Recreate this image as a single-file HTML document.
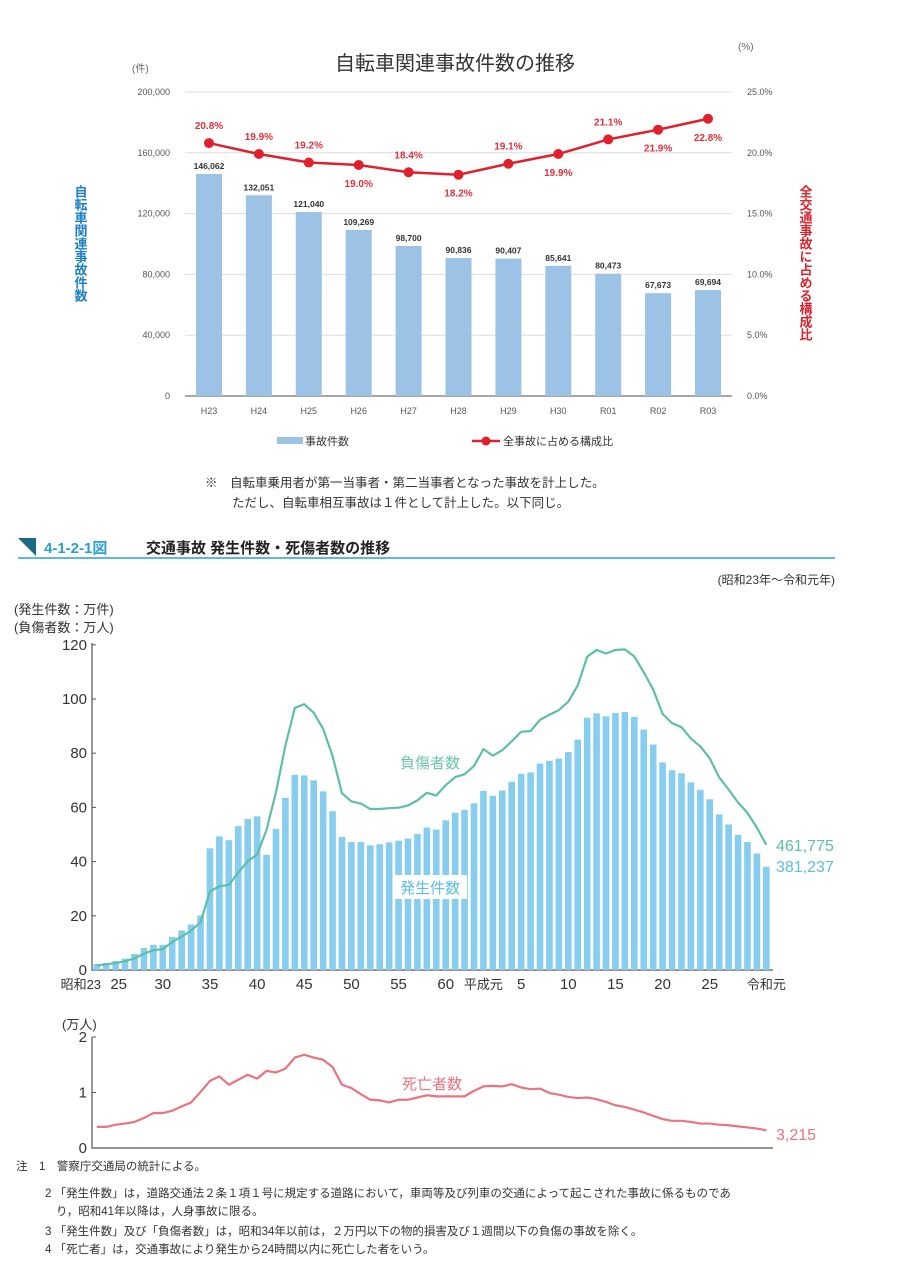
<!DOCTYPE html>
<html><head><meta charset="utf-8"><style>
body{margin:0;background:#fff;}
svg{display:block;font-family:"Liberation Sans","Noto Sans CJK JP",sans-serif;}
</style></head><body>
<svg id="s" width="906" height="1280" viewBox="0 0 906 1280">
<g id="top">
<text x="455" y="70" font-size="20" text-anchor="middle" fill="#333">自転車関連事故件数の推移</text>
<text x="132" y="72" font-size="10" fill="#666">(件)</text>
<text x="738" y="50" font-size="10" fill="#666">(%)</text>
<text x="80" y="185" font-size="13" font-weight="bold" fill="#1a7fc4" style="writing-mode:vertical-rl">自転車関連事故件数</text>
<text x="805" y="185" font-size="13" font-weight="bold" fill="#d9232d" style="writing-mode:vertical-rl">全交通事故に占める構成比</text>
</g>
<g id="bottom">
<path d="M18 538 L36 538 L36 556 Z" fill="#1a6a80"/>
<line x1="18" y1="558" x2="835" y2="558" stroke="#2a9fd6" stroke-width="1.5"/>
<text x="44" y="553" font-size="15" font-weight="bold" fill="#2a9fd6">4-1-2-1図</text>
<text x="146" y="553" font-size="15" font-weight="bold" fill="#222">交通事故 発生件数・死傷者数の推移</text>
<text x="835" y="584" font-size="12" text-anchor="end" fill="#333">(昭和23年～令和元年)</text>
<text x="14" y="614" font-size="13" fill="#333">(発生件数：万件)</text>
<text x="14" y="632" font-size="13" fill="#333">(負傷者数：万人)</text>
<text x="62" y="1029" font-size="13" fill="#333">(万人)</text>
</g>
<g font-size="11.5" fill="#333">
<text x="16" y="1170">注　1　警察庁交通局の統計による。</text>
<text x="45" y="1197">2 「発生件数」は，道路交通法２条１項１号に規定する道路において，車両等及び列車の交通によって起こされた事故に係るものであ</text>
<text x="56" y="1215">り，昭和41年以降は，人身事故に限る。</text>
<text x="45" y="1235">3 「発生件数」及び「負傷者数」は，昭和34年以前は，２万円以下の物的損害及び１週間以下の負傷の事故を除く。</text>
<text x="45" y="1253">4 「死亡者」は，交通事故により発生から24時間以内に死亡した者をいう。</text>
</g>
<text x="205" y="487" font-size="12.5" fill="#333">※　自転車乗用者が第一当事者・第二当事者となった事故を計上した。</text>
<text x="232" y="507" font-size="12.5" fill="#333">ただし、自転車相互事故は１件として計上した。以下同じ。</text>
</svg>
<script>
const NS="http://www.w3.org/2000/svg";
const svg=document.getElementById('s');
function mk(tag,attrs,parent,txt){const e=document.createElementNS(NS,tag);for(const k in attrs)e.setAttribute(k,attrs[k]);if(txt!==undefined)e.textContent=txt;(parent||svg).appendChild(e);return e;}

// ---- top chart data ----
const topCats=["H23","H24","H25","H26","H27","H28","H29","H30","R01","R02","R03"];
const topCounts=[146062,132051,121040,109269,98700,90836,90407,85641,80473,67673,69694];
const topPct=[20.8,19.9,19.2,19.0,18.4,18.2,19.1,19.9,21.1,21.9,22.8];
const topLeftTicks=[0,40000,80000,120000,160000,200000];
const topRightTicks=[0,5,10,15,20,25];
const pctSide=[1,1,1,-1,1,-1,1,-1,1,-1,-1];

const tY=v=>396-v/200000*304;
const tP=v=>396-v/25*304;
const tX=i=>209+i*49.9;
const gTop=document.getElementById('top');
topLeftTicks.forEach((t,i)=>{
 const g=mk('line',{x1:185,x2:732,y1:tY(t),y2:tY(t),stroke:i?'#ddd':'#888','stroke-width':i?1:1.5},gTop);
 
 
 const l=mk('text',{x:170,y:tY(t)+3,'font-size':9,'text-anchor':'end',fill:'#555'},gTop,t.toLocaleString('en-US'));
 
 
});
topRightTicks.forEach(t=>{
 const l=mk('text',{x:747,y:tP(t)+3,'font-size':9,fill:'#555'},gTop,t.toFixed(1)+'%');
 
 
});
topCats.forEach((c,i)=>{
 const b=mk('rect',{x:tX(i)-13,y:tY(topCounts[i]),width:26,height:396-tY(topCounts[i]),fill:'#9cc3e6'},gTop);
 
 
 const v=mk('text',{x:tX(i),y:tY(topCounts[i])-5,'font-size':8.5,'font-weight':'bold','text-anchor':'middle',fill:'#333'},gTop,topCounts[i].toLocaleString('en-US'));
 
 
 const cl=mk('text',{x:tX(i),y:414,'font-size':9,'text-anchor':'middle',fill:'#555'},gTop,c);
 
 
});
const pl=mk('polyline',{points:topPct.map((p,i)=>tX(i)+','+tP(p)).join(' '),fill:'none',stroke:'#e0202c','stroke-width':2.5},gTop);


topPct.forEach((p,i)=>{
 const d=mk('circle',{cx:tX(i),cy:tP(p),r:5,fill:'#e0202c'},gTop);
 
 
 const t=mk('text',{x:tX(i),y:tP(p)+(pctSide[i]>0?-14:22),'font-size':10,'font-weight':'bold','text-anchor':'middle',fill:'#e0303c'},gTop,p.toFixed(1)+'%');
 
 
});
const lg1=mk('rect',{x:277,y:437,width:26,height:7,fill:'#9cc3e6'},gTop);


const lt1=mk('text',{x:305,y:445,'font-size':11,fill:'#333'},gTop,'事故件数');


const lg2=mk('line',{x1:472,x2:500,y1:441,y2:441,stroke:'#e0202c','stroke-width':2.5},gTop);


const lg3=mk('circle',{cx:486,cy:441,r:4.5,fill:'#e0202c'},gTop);


const lt2=mk('text',{x:503,y:445,'font-size':11,fill:'#333'},gTop,'全事故に占める構成比');



// ---- bottom chart data (昭和23〜令和元, 72 years) ----
const accidents=[2.2,2.6,3.3,4.2,5.9,8.1,9.3,9.3,12.2,14.6,16.8,20.1,44.9,49.3,47.9,53.1,55.7,56.7,42.5,52.1,63.5,72.0,71.8,70.0,65.9,58.6,49.1,47.2,47.2,46.0,46.4,47.1,47.7,48.5,50.2,52.6,51.8,55.2,58.0,59.1,61.5,66.1,64.3,66.2,69.5,72.4,72.9,76.2,77.2,78.0,80.4,85.0,93.1,94.7,93.6,94.8,95.2,93.4,88.7,83.2,76.6,73.7,72.6,69.2,66.5,63.0,57.4,53.7,49.9,47.2,43.0,38.1];
const injured=[1.7,2.1,2.6,3.2,4.3,6.0,7.3,7.7,10.3,12.4,14.5,17.6,29.0,30.9,31.4,35.9,40.1,42.6,51.7,65.6,82.8,96.7,98.1,94.9,89.0,79.0,65.2,62.2,61.4,59.4,59.4,59.7,59.9,60.7,62.6,65.4,64.4,68.2,71.2,72.2,75.3,81.5,79.1,81.1,84.4,87.9,88.2,92.3,94.2,95.9,99.0,105.0,115.6,118.1,116.8,118.1,118.3,115.7,109.9,103.5,94.5,91.1,89.6,85.4,82.5,78.1,71.1,66.6,61.8,58.0,52.5,46.2];
const deaths=[0.38,0.38,0.42,0.44,0.47,0.54,0.63,0.63,0.67,0.75,0.82,1.01,1.21,1.29,1.14,1.23,1.32,1.25,1.39,1.36,1.43,1.63,1.68,1.63,1.59,1.46,1.14,1.08,0.97,0.87,0.86,0.82,0.87,0.87,0.91,0.95,0.93,0.93,0.93,0.93,1.03,1.11,1.12,1.11,1.15,1.09,1.06,1.07,0.99,0.96,0.92,0.90,0.91,0.88,0.83,0.77,0.74,0.69,0.64,0.58,0.52,0.49,0.49,0.47,0.44,0.44,0.42,0.41,0.39,0.37,0.35,0.32];
const xTickIdx=[0,2,7,12,17,22,27,32,37,41,45,50,55,60,65,71];
const xTickLabels=["昭和23","25","30","35","40","45","50","55","60","平成元","5","10","15","20","25","令和元"];
const yTicks=[0,20,40,60,80,100,120];
const dTicks=[0,1,2];

const gB=document.getElementById('bottom');
const bx=i=>96.8+i*9.43;
const by=v=>970-v*2.71;
const dy=v=>1148-v*55.5;
const ax=mk('path',{d:'M92 643 V970 H773',fill:'none',stroke:'#555','stroke-width':1.2},gB);


yTicks.forEach(t=>{
 const tk=mk('line',{x1:92,x2:96,y1:by(t),y2:by(t),stroke:'#555'},gB);
 
 
 const l=mk('text',{x:87,y:by(t)+5,'font-size':15,'text-anchor':'end',fill:'#333'},gB,t);
 
 
});
accidents.forEach((v,i)=>{
 const b=mk('rect',{x:bx(i)-3.3,y:by(v),width:6.6,height:970-by(v),fill:'#86cdf0'},gB);
 
 
});
const lab1bg=mk('rect',{x:393,y:875,width:74,height:24,fill:'#fff'},gB);


const lab1=mk('text',{x:430,y:893,'font-size':15,'text-anchor':'middle',fill:'#5bbde8'},gB,'発生件数');


const il=mk('polyline',{points:injured.map((v,i)=>bx(i)+','+by(v)).join(' '),fill:'none',stroke:'#5dbfa5','stroke-width':2.2,'stroke-linejoin':'round'},gB);


const lab2=mk('text',{x:430,y:768,'font-size':15,'text-anchor':'middle',fill:'#6cc4ae'},gB,'負傷者数');


const e1=mk('text',{x:776,y:851,'font-size':16,fill:'#5dbfa5'},gB,'461,775');


const e2=mk('text',{x:776,y:872,'font-size':16,fill:'#5bbde8'},gB,'381,237');


xTickIdx.forEach((ix,k)=>{
 const lbl=xTickLabels[k];
 const small=lbl.length>2;
 const l=mk('text',{x:bx(ix)+(k===0?-16:k===1?3:0),y:989,'font-size':small?13:15,'text-anchor':'middle',fill:'#333'},gB,lbl);
 
 
});
// deaths
const dax=mk('path',{d:'M92 1037 V1148 H773',fill:'none',stroke:'#555','stroke-width':1.2},gB);


dTicks.forEach(t=>{
 const tk=mk('line',{x1:92,x2:96,y1:dy(t),y2:dy(t),stroke:'#555'},gB);
 
 
 const l=mk('text',{x:87,y:dy(t)+5,'font-size':15,'text-anchor':'end',fill:'#333'},gB,t);
 
 
});
const dl=mk('polyline',{points:deaths.map((v,i)=>bx(i)+','+dy(v)).join(' '),fill:'none',stroke:'#ea7380','stroke-width':2.2,'stroke-linejoin':'round'},gB);


const lab3=mk('text',{x:432,y:1089,'font-size':15,'text-anchor':'middle',fill:'#ea7380'},gB,'死亡者数');


const e3=mk('text',{x:776,y:1140,'font-size':16,fill:'#ea7380'},gB,'3,215');


</script>
</body></html>
